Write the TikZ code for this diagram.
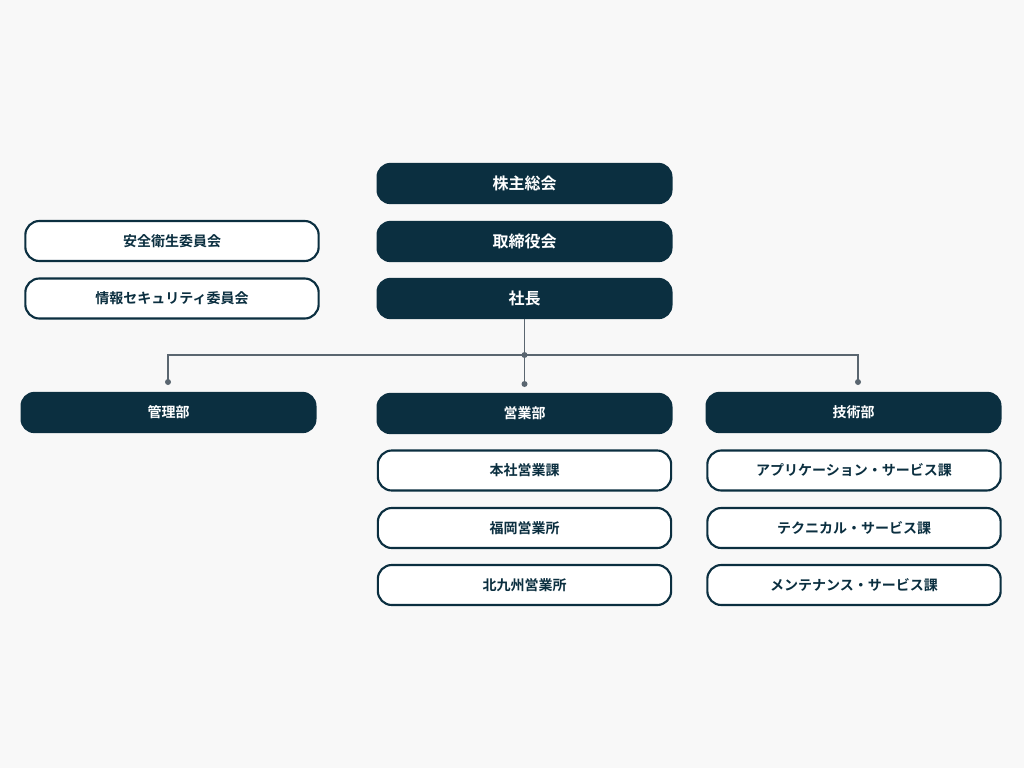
\documentclass[tikz,border=0pt]{standalone}
\usepackage{fontspec}
\setmainfont{Noto Sans CJK JP}[BoldFont={Noto Sans CJK JP Bold}]
\usepackage{tikz}
\usetikzlibrary{calc}
\definecolor{dark}{RGB}{11, 47, 64}
\definecolor{wire}{RGB}{90, 102, 112}
\definecolor{paper}{RGB}{248, 248, 248}

\tikzset{
  unit/.style={rounded corners=10.5pt, minimum width=222pt, minimum height=31pt,
    inner sep=0pt, font=\bfseries\fontsize{10.5}{12}\selectfont},
  head/.style={unit, fill=dark, text=white},
  sub/.style={unit, draw=dark, line width=1.6pt, fill=white, text=dark,
    minimum width=220pt, minimum height=30pt},
  dot/.style={circle, fill=wire, inner sep=0pt, minimum size=4.5pt}
}

\begin{document}
\begin{tikzpicture}[x=0.75pt, y=-0.75pt]
  \fill[paper] (0, 0) rectangle (1024, 768);
  \useasboundingbox (0, 0) rectangle (1024, 768);

  % top
  \node[head, font=\bfseries\fontsize{12}{14}\selectfont] (agm) at (524.5, 183.5) {株主総会};
  \node[head, font=\bfseries\fontsize{12}{14}\selectfont] (board) at (524.5, 241.5) {取締役会};
  \node[head, font=\bfseries\fontsize{12}{14}\selectfont] (ceo) at (524.5, 298.5) {社長};

  \node[sub] (safety) at (172, 241) {安全衛生委員会};
  \node[sub] (infosec) at (172, 298.5) {情報セキュリティ委員会};

  % departments
  \node[head] (admin) at (168.5, 412.5) {管理部};
  \node[head] (sales) at (524.5, 413.5) {営業部};
  \node[head] (tech) at (853.5, 412.5) {技術部};

  \node[sub] (hq) at (524.5, 470.5) {本社営業課};
  \node[sub] (fukuoka) at (524.5, 528) {福岡営業所};
  \node[sub] (kita) at (524.5, 585) {北九州営業所};

  \node[sub] (app) at (854, 470.5) {アプリケーション・サービス課};
  \node[sub] (techsv) at (854, 528) {テクニカル・サービス課};
  \node[sub] (maint) at (854, 585) {メンテナンス・サービス課};

  % wiring
  \coordinate (hub) at (524.5, 355);
  \coordinate (la) at (168, 382);
  \coordinate (lb) at (524.5, 384);
  \coordinate (lc) at (858, 382);
  \draw[wire, line width=1.3pt] (ceo.south) -- (hub);
  \draw[wire, line width=1.3pt] (la) |- (hub) -| (lc);
  \draw[wire, line width=1.3pt] (hub) -- (lb);
  \foreach \p in {hub, la, lb, lc} \node[dot] at (\p) {};
\end{tikzpicture}
\end{document}
